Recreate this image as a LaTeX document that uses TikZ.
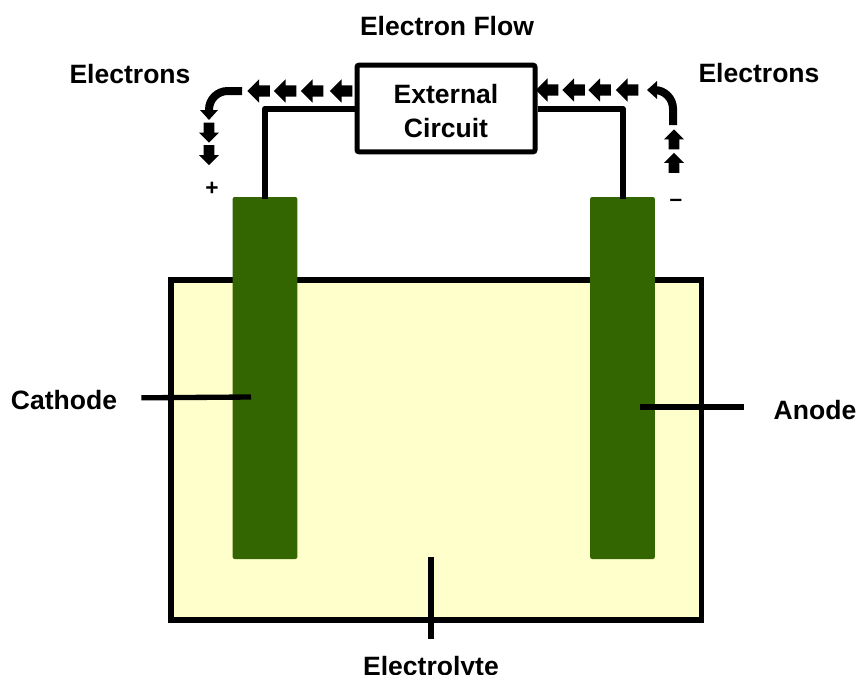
\documentclass[tikz,border=0pt]{standalone}
\usepackage{fontspec}
\setmainfont{Liberation Sans}
\usetikzlibrary{
    arrows.meta,
    shapes.arrows
    }

\begin{document}
\begin{tikzpicture}[x=0.75pt, y=-0.75pt]
\tikzset{vessel/.style =
        {
            rectangle,
            line width=4pt,
            draw=black,
            fill=electrolyte,
            minimum width=398pt,
            minimum height=255pt,
            inner sep=0pt
        }
}

\tikzset{electrode/.style =
        {
            rectangle,
            rounded corners=1.5pt,
            fill=electrodegreen,
            minimum width=48.5pt,
            minimum height=271.5pt,
            inner sep=0pt
        }
}

\tikzset{circuitbox/.style =
        {
            rectangle,
            rounded corners=1.5pt,
            line width=3.75pt,
            draw=black,
            fill=white,
            align=center,
            minimum width=133.5pt,
            minimum height=65pt,
            inner sep=0pt,
            font=\labelfont
        }
}

\tikzset{label/.style = { font=\labelfont, inner sep=0pt } }

\tikzset{sign/.style = { font=\signfont, inner sep=0pt } }

\tikzset{wire/.style =
        {
            line width=4.5pt,
            line join=round,
            shorten >=-1.5pt
        }
}

\tikzset{leader/.style = { line width=4pt } }

\tikzset{flow/.style =
        {
            single arrow,
            fill=black,
            minimum height=17pt,
            minimum width=17pt,
            single arrow head extend=4.5pt,
            inner xsep=0pt,
            inner ysep=4.1pt
        }
}

\tikzset{flow small/.style =
        {
            flow,
            minimum height=15pt,
            minimum width=14.5pt,
            single arrow head extend=3.5pt,
            inner ysep=3.75pt
        }
}

\tikzset{bent/.style =
        {
            line width=6pt,
            rounded corners=14pt,
            -{Triangle[length=7.5pt, width=13pt]}
        }
}
		\definecolor{electrolyte}{HTML}{FFFFCC}
		\definecolor{electrodegreen}{HTML}{336600}
		\newcommand{\labelfont}{\fontsize{19.9}{25.5}\selectfont\bfseries}
		\newcommand{\signfont}{\fontsize{17}{17}\selectfont\bfseries}

		\path[use as bounding box, clip] (0,0) rectangle (858,675);

		\node[vessel] (vessel) at (436.25,450) {};
		\node[electrode] (cathode) at (265,378) {};
		\node[electrode] (anode) at (622.5,378) {};
		\node[circuitbox] (circuit) at (446,108.5) {\rule{0pt}{18.8pt}External\\Circuit};

		\node[label] (label-flow) at (447,26) {Electron Flow};
		\node[label] (label-left) at (130,74) {Electrons};
		\node[label] (label-right) at (759,73) {Electrons};
		\node[label] (label-cathode) at (64,400) {Cathode};
		\node[label] (label-anode) at (815,410) {Anode};
		\node[label] (label-electrolyte) at (431,669) {Electrolyte};
		\node[sign] (label-plus) at (212,188.5) {+};
		\node[sign] (label-minus) at (676,203) {--};

		\draw[wire] (circuit.west) -| (cathode.north);
		\draw[wire] (circuit.east) -| (anode.north);

		\coordinate (cathode-tip) at (251,397);
		\coordinate (anode-tip) at (640,407);
		\coordinate (electrolyte-tip) at (431,557);
		\draw[leader, shorten <=18pt] ([yshift=1.5pt]label-cathode.east) -- (cathode-tip);
		\draw[leader, shorten <=22pt] ([yshift=2.25pt]label-anode.west) -- (anode-tip);
		\draw[leader, shorten <=13pt] (label-electrolyte.north) -- (electrolyte-tip);

		\foreach \x in {261.5, 288, 315, 344}
		\node[flow, rotate=180] (flow-left-\x) at (\x,91) {};
		\foreach \x in {550, 576.5, 602.5, 630}
		\node[flow, rotate=180] (flow-right-\x) at (\x,90) {};
		\foreach \y in {130, 152.5}
		\node[flow small, rotate=-90] (flow-down-\y) at (209,\y) {};
		\foreach \y in {142, 165.5}
		\node[flow small, rotate=90] (flow-up-\y) at (674,\y) {};

		\coordinate (bent-left-start) at (242,91);
		\coordinate (bent-left-end) at (209,120);
		\coordinate (bent-right-start) at (673,125);
		\coordinate (bent-right-end) at (647,90);
		\draw[bent] (bent-left-start) -| (bent-left-end);
		\draw[bent] (bent-right-start) |- (bent-right-end);

	\end{tikzpicture}
\end{document}
